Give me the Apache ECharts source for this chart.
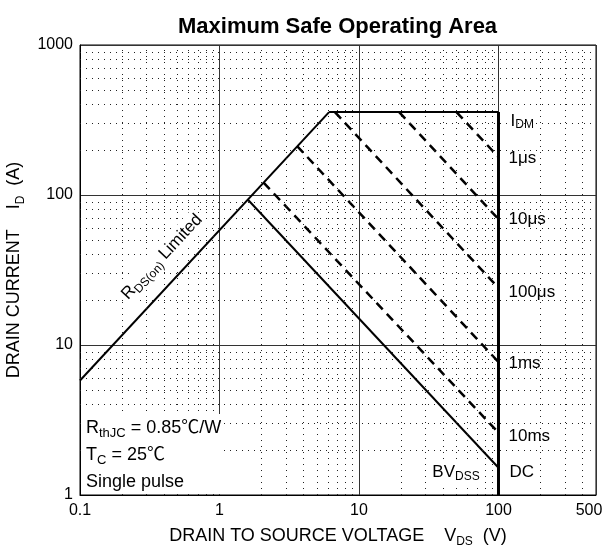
<!DOCTYPE html>
<html>
<head>
<meta charset="utf-8">
<script src="https://cdn.jsdelivr.net/npm/echarts@6.0.0/dist/echarts.min.js"></script>
<style>
    html, body { margin: 0; padding: 0; background: #fff; }
    #soa { width: 605px; height: 550px; }
</style>
</head>
<body>
<div id="soa"></div>
<script>
// 读图得到的数据点 (V, A)
var rdsLimit = [[0.1, 5.8], [6.1, 357]];
var idmLine = [[6.1, 357], [100, 357]];
var bvdssLine = [[100, 1], [100, 357]];
var dcLine = [[1.6, 93], [100, 1.52]];
var pulse10ms = [[2.07, 121], [100, 2.6]];
var pulse1ms = [[3.6, 212], [100, 7.7]];
var pulse100us = [[6.72, 357], [100, 24]];
var pulse10us = [[19.4, 357], [100, 69]];
var pulse1us = [[50, 357], [100, 179]];

// 次网格线位置
var xMinorTicks = [0.2, 0.3, 0.4, 0.5, 0.6, 0.7, 0.8, 0.9,
    2, 3, 4, 5, 6, 7, 8, 9,
    20, 30, 40, 50, 60, 70, 80, 90,
    200, 300, 400];
var yMinorTicks = [2, 3, 4, 5, 6, 7, 8, 9,
    20, 30, 40, 50, 60, 70, 80, 90,
    200, 300, 400, 500, 600, 700, 800, 900];

var fontName = 'Liberation Sans, Arial, Noto Sans CJK SC, sans-serif';
var subRich = {
    sub: { fontSize: 12, fontFamily: fontName, color: '#000', verticalAlign: 'bottom', lineHeight: 12 }
};
var boxRich = {
    sub: { fontSize: 13, fontFamily: fontName, color: '#000', verticalAlign: 'bottom', lineHeight: 13 }
};

var soaChart = echarts.init(document.getElementById('soa'));

function eachOf(arr, fn) {
    for (var i = 0; i < arr.length; i++) fn(arr[i], i);
}

function solidLine(name, data, width) {
    return {
        name: name,
        type: 'line',
        data: data,
        symbol: 'none',
        z: 3,
        silent: true,
        lineStyle: { color: '#000', width: width || 2 }
    };
}

function pulseLine(name, data, text, offsetY) {
    return {
        name: name,
        type: 'line',
        data: data,
        symbol: 'none',
        z: 3,
        silent: true,
        lineStyle: { color: '#000', width: 2.5, type: [9, 6] },
        endLabel: {
            show: true,
            formatter: text,
            distance: 8,
            offset: [0, offsetY || 0],
            fontSize: 17,
            fontFamily: fontName,
            color: '#000',
            backgroundColor: '#fff',
            padding: [1, 2]
        }
    };
}

var xMarks = [];
eachOf(xMinorTicks, function (v) { xMarks.push({ xAxis: v }); });
var yMarks = [];
eachOf(yMinorTicks, function (v) { yMarks.push({ yAxis: v }); });

var dcSeries = solidLine('DC', dcLine, 2);
dcSeries.endLabel = {
    show: true, formatter: 'DC', distance: 9, offset: [0, 5],
    fontSize: 17, fontFamily: fontName, color: '#000', backgroundColor: '#fff', padding: [1, 2]
};
var idmSeries = solidLine('IDM', idmLine, 2);
idmSeries.endLabel = {
    show: true, formatter: 'I{sub|DM}', distance: 10, offset: [0, 9],
    fontSize: 17, lineHeight: 20, fontFamily: fontName, color: '#000', backgroundColor: '#fff', padding: [1, 2],
    rich: subRich
};

function plainNumber(v) {
    return String(+v.toPrecision(6));
}

var option = {
    animation: false,
    title: {
        text: 'Maximum Safe Operating Area',
        left: 173,
        top: 11,
        textStyle: { fontSize: 22, fontWeight: 'bold', fontFamily: fontName, color: '#000' }
    },
    grid: {
        left: 80, right: 9, top: 45, bottom: 55,
        outerBoundsMode: 'none',
        containLabel: false,
        show: true, borderColor: '#000', borderWidth: 1
    },
    xAxis: {
        type: 'log',
        logBase: 10,
        min: 0.1,
        max: 500,
        name: 'DRAIN TO SOURCE VOLTAGE    V{sub|DS}  (V)',
        nameLocation: 'middle',
        nameGap: 28,
        nameTextStyle: { fontSize: 18, lineHeight: 24, fontFamily: fontName, color: '#000', rich: subRich },
        axisLine: { lineStyle: { color: '#000' } },
        axisTick: { show: false },
        axisLabel: {
            fontSize: 16, fontFamily: fontName, color: '#000', margin: 8,
            formatter: function (v) {
                // 最右端 500 向左收一点，避免被裁掉
                return v >= 499 ? '{m|' + plainNumber(v) + '}' : plainNumber(v);
            },
            rich: { m: { fontSize: 16, fontFamily: fontName, color: '#000', padding: [0, 14, 0, 0] } }
        },
        splitLine: { show: true, lineStyle: { color: '#333', width: 1 } }
    },
    yAxis: {
        type: 'log',
        logBase: 10,
        min: 1,
        max: 1000,
        name: 'DRAIN CURRENT    I{sub|D}  (A)',
        nameLocation: 'middle',
        nameGap: 47,
        nameTextStyle: { fontSize: 18, lineHeight: 24, fontFamily: fontName, color: '#000', rich: subRich },
        axisLine: { lineStyle: { color: '#000' } },
        axisTick: { show: false },
        axisLabel: { fontSize: 16, fontFamily: fontName, color: '#000', margin: 7, formatter: plainNumber },
        splitLine: { show: true, lineStyle: { color: '#333', width: 1 } }
    },
    series: [
        {
            // 点线网格
            name: 'minor',
            type: 'line',
            data: [[0.1, 1]],
            symbol: 'none',
            z: 1,
            silent: true,
            markLine: {
                silent: true,
                symbol: 'none',
                label: { show: false },
                lineStyle: { color: '#222', width: 1, type: [1, 5] },
                data: xMarks.concat(yMarks)
            }
        },
        solidLine('RDS', rdsLimit, 2),
        idmSeries,
        solidLine('BVDSS', bvdssLine, 3),
        dcSeries,
        pulseLine('10ms', pulse10ms, '10ms', 4),
        pulseLine('1ms', pulse1ms, '1ms', 1),
        pulseLine('100us', pulse100us, '100μs', 4),
        pulseLine('10us', pulse10us, '10μs', 0),
        pulseLine('1us', pulse1us, '1μs', 1)
    ],
    graphic: [
        {
            type: 'rect',
            z: 100,
            shape: { x: 81, y: 414, width: 141, height: 80 },
            style: { fill: '#fff' }
        },
        {
            type: 'text',
            z: 101,
            x: 86, y: 428,
            style: {
                text: 'R{sub|thJC} = 0.85℃/W',
                font: '18px ' + fontName, fill: '#000',
                verticalAlign: 'middle', lineHeight: 24, rich: boxRich
            }
        },
        {
            type: 'text',
            z: 101,
            x: 86, y: 455,
            style: {
                text: 'T{sub|C} = 25℃',
                font: '18px ' + fontName, fill: '#000',
                verticalAlign: 'middle', lineHeight: 24, rich: boxRich
            }
        },
        {
            type: 'text',
            z: 101,
            x: 86, y: 482,
            style: { text: 'Single pulse', font: '18px ' + fontName, fill: '#000', verticalAlign: 'middle' }
        },
        {
            type: 'text',
            z: 101,
            x: 162, y: 257,
            rotation: 47 * Math.PI / 180,
            style: {
                text: 'R{sub|DS(on)} Limited',
                font: '17px ' + fontName, fill: '#000',
                align: 'center', verticalAlign: 'middle', lineHeight: 22,
                backgroundColor: '#fff', padding: [0, 2], rich: subRich
            }
        },
        {
            type: 'text',
            z: 101,
            x: 456, y: 472,
            style: {
                text: 'BV{sub|DSS}',
                font: '17px ' + fontName, fill: '#000',
                align: 'center', verticalAlign: 'middle', lineHeight: 22,
                backgroundColor: '#fff', padding: [0, 2], rich: subRich
            }
        }
    ]
};

soaChart.setOption(option);
</script>
</body>
</html>
